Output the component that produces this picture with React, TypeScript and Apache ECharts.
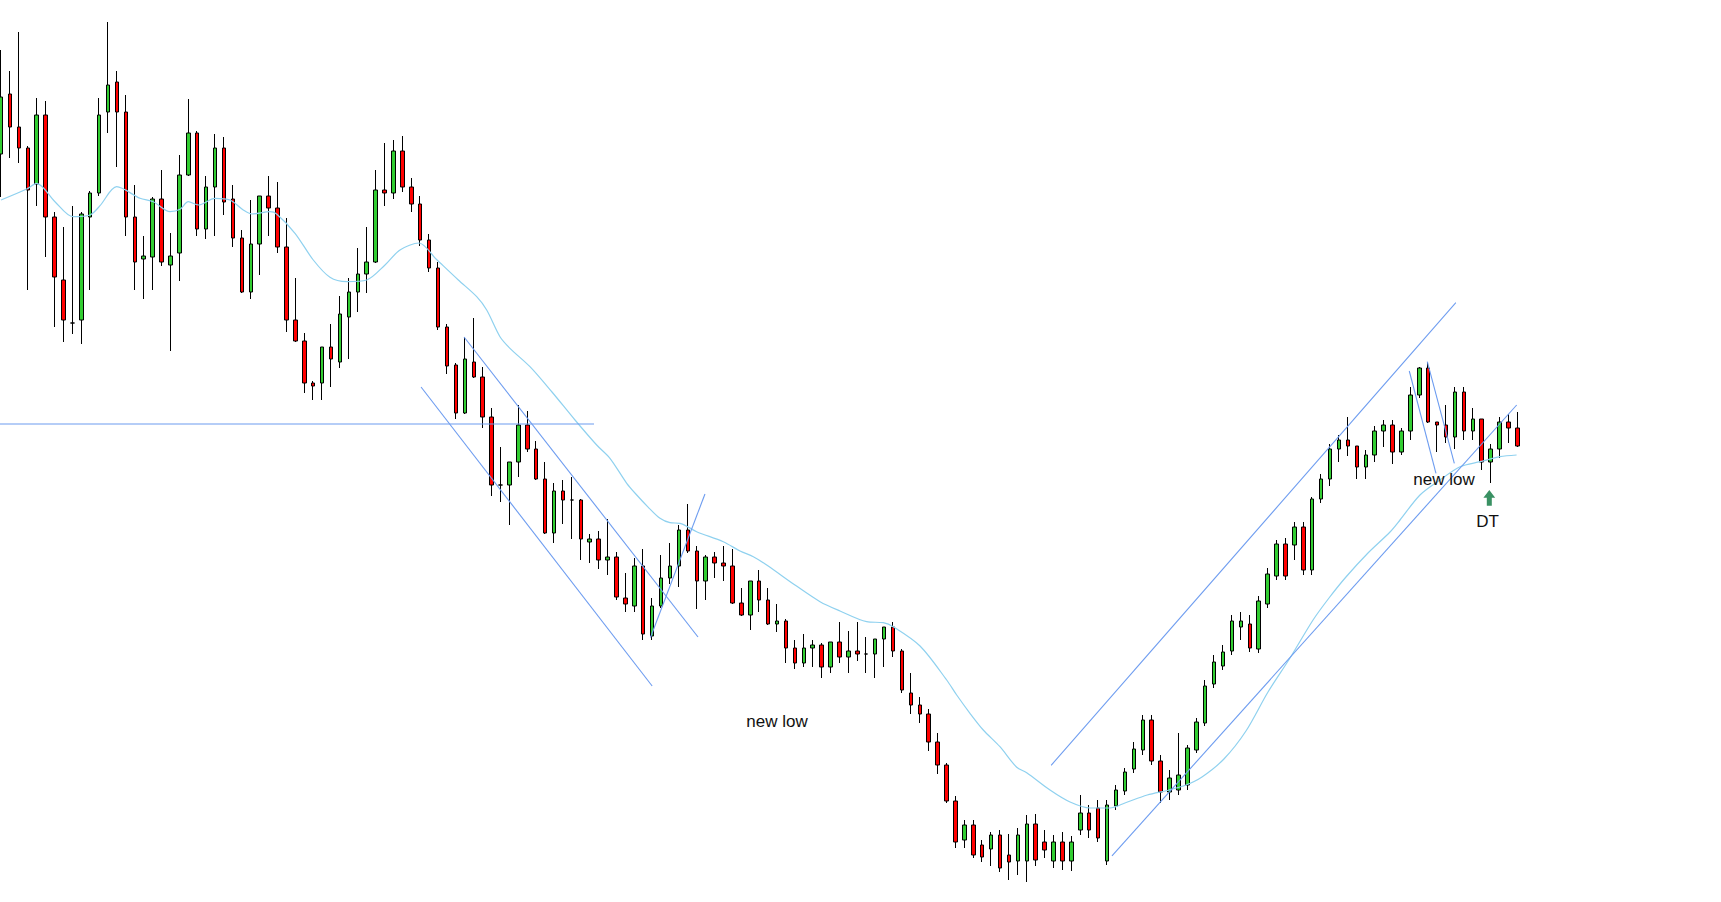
import React, { useEffect, useRef } from "react";
import * as echarts from "echarts";

// ---- candle data (price units, arbitrary scale; no axis is shown) ----
const open = [
  846, 906, 873, 852, 816, 885, 783, 720, 677, 680,
  783, 807, 888, 918, 888, 783, 741, 743, 801, 735,
  747, 825, 867, 771, 813, 852, 801, 762, 708, 756,
  804, 792, 753, 680, 659, 617, 617, 653, 638, 683,
  708, 726, 738, 810, 807, 849, 813, 796, 760, 732,
  673, 635, 587, 638, 623, 583, 515, 515, 538, 575,
  551, 521, 467, 509, 500, 500, 458, 461, 440, 443,
  402, 394, 434, 364, 394, 422, 434, 470, 449, 419,
  443, 437, 434, 397, 385, 419, 400, 376, 379, 352,
  337, 352, 355, 333, 358, 343, 349, 346, 346, 361,
  373, 349, 307, 295, 286, 258, 235, 199, 160, 175,
  155, 151, 165, 145, 139, 139, 176, 158, 139, 158,
  139, 170, 187, 192, 139, 194, 209, 231, 250, 280,
  239, 208, 210, 215, 250, 277, 316, 334, 349, 373,
  376, 351, 396, 424, 456, 455, 473, 430, 501, 521,
  551, 560, 554, 533, 545, 569, 575, 548, 569, 605,
  632, 578, 575, 563, 608, 569, 581, 538, 551, 578,
  572,
];
const close = [
  903, 873, 852, 810, 885, 783, 723, 680, 677, 786,
  807, 885, 915, 888, 783, 738, 744, 801, 738, 744,
  825, 867, 771, 813, 852, 798, 762, 708, 756, 804,
  792, 753, 680, 659, 617, 614, 653, 641, 686, 708,
  726, 738, 810, 807, 849, 813, 796, 760, 732, 673,
  634, 587, 641, 623, 583, 515, 515, 538, 575, 551,
  521, 467, 509, 500, 500, 461, 461, 440, 443, 403,
  396, 434, 366, 394, 422, 434, 470, 449, 419, 443,
  437, 434, 397, 385, 419, 400, 376, 379, 352, 337,
  352, 355, 333, 358, 343, 349, 346, 346, 361, 373,
  349, 310, 295, 286, 258, 235, 199, 158, 175, 145,
  143, 165, 132, 138, 165, 176, 140, 150, 158, 139,
  158, 187, 170, 162, 195, 210, 228, 251, 280, 239,
  208, 222, 225, 252, 278, 314, 338, 348, 379, 379,
  352, 399, 426, 456, 424, 473, 430, 501, 521, 551,
  560, 554, 533, 545, 569, 575, 548, 569, 605, 632,
  578, 575, 563, 608, 569, 581, 538, 551, 578, 572,
  554,
];
const low = [
  803, 842, 837, 710, 794, 743, 673, 658, 666, 656,
  710, 804, 867, 833, 764, 710, 701, 710, 734, 649,
  719, 824, 764, 761, 764, 785, 753, 707, 701, 725,
  764, 747, 668, 658, 607, 600, 600, 613, 632, 641,
  688, 707, 737, 794, 801, 808, 788, 754, 728, 670,
  626, 581, 586, 622, 572, 504, 498, 475, 523, 548,
  520, 466, 457, 476, 461, 440, 437, 431, 425, 400,
  388, 388, 360, 360, 392, 416, 413, 447, 391, 400,
  422, 419, 396, 384, 370, 388, 375, 368, 337, 331,
  333, 333, 322, 327, 337, 327, 339, 327, 322, 333,
  343, 307, 286, 277, 249, 226, 197, 152, 152, 142,
  138, 134, 128, 120, 125, 118, 134, 142, 132, 130,
  129, 165, 162, 158, 135, 190, 205, 227, 245, 235,
  197, 200, 205, 210, 247, 274, 312, 330, 345, 360,
  348, 347, 392, 420, 420, 440, 425, 425, 497, 514,
  538, 544, 521, 521, 538, 553, 536, 545, 560, 602,
  577, 548, 557, 551, 560, 560, 530, 517, 542, 557,
  553,
];
const high = [
  950, 929, 968, 854, 902, 899, 788, 773, 794, 788,
  809, 902, 978, 929, 905, 815, 764, 803, 830, 767,
  845, 901, 869, 824, 866, 863, 815, 770, 800, 804,
  824, 818, 782, 722, 667, 619, 653, 676, 704, 722,
  752, 773, 830, 857, 860, 864, 822, 804, 766, 738,
  676, 637, 663, 682, 633, 592, 553, 538, 595, 589,
  559, 538, 517, 520, 523, 501, 466, 469, 481, 448,
  427, 442, 451, 402, 445, 457, 475, 496, 454, 445,
  448, 454, 451, 412, 419, 430, 412, 396, 381, 360,
  366, 360, 357, 358, 378, 369, 378, 363, 361, 373,
  378, 351, 327, 303, 291, 267, 237, 204, 180, 180,
  160, 168, 170, 166, 172, 185, 186, 170, 165, 168,
  164, 205, 195, 200, 200, 215, 232, 258, 285, 285,
  245, 230, 267, 255, 282, 320, 345, 355, 385, 388,
  385, 404, 432, 460, 462, 478, 478, 503, 526, 556,
  565, 583, 554, 550, 574, 580, 580, 572, 613, 633,
  638, 578, 595, 613, 613, 592, 581, 556, 583, 586,
  588,
];
const bars = open.map((_, i) => String(i + 1));

// ---- moving average (bar position, price) ----
const maX = [
  0, 2.88, 4.0, 6.05, 8.07, 9.98, 11.1, 12.97, 15.58, 17.07,
  18.95, 20.07, 21.0, 22.12, 23.99, 25.67, 27.16, 28.1, 30.16, 30.9,
  32.96, 35.01, 36.88, 38.76, 41.0, 43.05, 44.73, 46.86, 48.77, 51.27,
  53.33, 54.45, 55.94, 57.06, 59.3, 61.77, 64.35, 66.78, 68.27, 70.15,
  71.27, 72.57, 73.88, 75.0, 76.12, 77.99, 80.97, 82.85, 84.34, 85.84,
  89.01, 91.82, 94.06, 97.05, 98.91, 100.03, 103.03, 106.02, 107.14, 108.63,
  110.12, 111.99, 113.87, 114.99, 117.6, 119.85, 122.09, 124.33, 126.0, 128.5,
  130.94, 132.85, 134.64, 137.1, 139.57, 142.04, 144.51, 147.09, 148.88, 150.78,
  153.25, 155.72, 156.84, 159.08, 161.32, 163.57, 165.81, 168.05, 169.91,
];
const maY = [
  800, 811, 816.7, 798.3, 783.3, 785, 794.3, 813.3, 801.7, 798.3,
  788.3, 790.7, 798.3, 795, 801.7, 800, 790, 786, 788.3, 786,
  766.7, 740, 722.7, 718.3, 720, 735, 750, 757, 741, 720,
  703.3, 690, 663.3, 651.7, 633.3, 608, 580, 555, 541.7, 516.7,
  505, 492.7, 481.7, 477.3, 476.7, 468.3, 458.3, 449, 443.3, 435,
  415, 398.3, 389, 378.3, 377.3, 373.3, 354, 320, 305, 286.7,
  270, 253.3, 232.7, 227.3, 210, 198, 192, 192, 197, 205,
  210, 215, 223, 241, 269, 308, 342, 380, 402, 423,
  447, 468, 480, 505, 520, 533.3, 538.3, 543.3, 545,
];

// ---- drawn trend lines: [bar1, price1, bar2, price2] ----
const trendLines = [
  [-0.2, 576, 66.48, 576],
  [47.09, 613, 73.0, 314],
  [51.91, 663, 78.14, 363],
  [72.81, 362.5, 78.92, 506],
  [117.73, 234.7, 163.1, 697.3],
  [124.55, 144.2, 169.92, 595],
  [157.88, 629, 160.87, 526.7],
  [159.9, 638.3, 162.93, 536.7],
];

// ---- annotations (bar position, price) ----
const notes = [
  { text: "new low", x: 87.0, y: 279 },
  { text: "new low", x: 161.77, y: 520.2 },
  { text: "DT", x: 166.65, y: 479 },
];
const arrowTip = [166.85, 510];

const FONT = '17px "Liberation Sans", Arial, sans-serif';

export default function App() {
  const ref = useRef<HTMLDivElement>(null);

  useEffect(() => {
    if (!ref.current) return;
    const chart = echarts.init(ref.current, null, { renderer: "svg" });
    const candles = open.map((o, i) => [o, close[i], low[i], high[i]]);

    chart.setOption({
      animation: false,
      backgroundColor: "#ffffff",
      grid: { left: 1, right: 203.6, top: 0, bottom: 0, containLabel: false },
      xAxis: [
        { type: "category", data: bars, boundaryGap: false, show: false },
        { type: "value", min: 0, max: bars.length - 1, show: false, splitLine: { show: false } },
      ],
      yAxis: { type: "value", min: 98, max: 1000, show: false, splitLine: { show: false } },
      series: [
        {
          type: "candlestick",
          data: candles,
          barWidth: 4,
          clip: false,
          silent: true,
          z: 2,
          itemStyle: {
            color: "#32cd32",
            color0: "#ff0000",
            borderColor: "#000000",
            borderColor0: "#000000",
            borderColorDoji: "#000000",
            borderWidth: 1,
          },
          emphasis: { disabled: true },
        },
        {
          type: "line",
          xAxisIndex: 1,
          yAxisIndex: 0,
          data: maX.map((x, i) => [x, maY[i]]),
          smooth: 0.3,
          showSymbol: false,
          symbol: "none",
          clip: false,
          silent: true,
          z: 4,
          lineStyle: { color: "#8fd1ef", width: 1.2 },
          emphasis: { disabled: true },
        },
        ...trendLines.map(([x1, y1, x2, y2]) => ({
          type: "line",
          xAxisIndex: 1,
          yAxisIndex: 0,
          data: [
            [x1, y1],
            [x2, y2],
          ],
          showSymbol: false,
          symbol: "none",
          clip: false,
          silent: true,
          z: 5,
          lineStyle: { color: "#6d9cf0", width: 1.1 },
          emphasis: { disabled: true },
        })),
      ],
    });

    const toPx = (p: number[]) =>
      chart.convertToPixel({ xAxisIndex: 1, yAxisIndex: 0 } as any, p) as unknown as number[];

    const textEls = notes.map((n) => {
      const [px, py] = toPx([n.x, n.y]);
      return {
        type: "text",
        x: px,
        y: py,
        z: 10,
        silent: true,
        style: {
          text: n.text,
          fill: "#111111",
          font: FONT,
          align: "center",
          verticalAlign: "middle",
          textAlign: "center",
          textVerticalAlign: "middle",
        },
      };
    });
    const [tx, ty] = toPx(arrowTip);
    const arrow = {
      type: "polygon",
      z: 10,
      silent: true,
      shape: {
        points: [
          [tx, ty],
          [tx + 5.9, ty + 7.7],
          [tx + 2.5, ty + 7.7],
          [tx + 2.5, ty + 15.7],
          [tx - 2.5, ty + 15.7],
          [tx - 2.5, ty + 7.7],
          [tx - 5.9, ty + 7.7],
        ],
      },
      style: { fill: "#3a9163" },
    };
    chart.setOption({ graphic: [...textEls, arrow] });

    return () => chart.dispose();
  }, []);

  return (
    <div
      ref={ref}
      style={{ position: "fixed", left: 0, top: 0, width: 1721, height: 902, background: "#fff" }}
    />
  );
}
